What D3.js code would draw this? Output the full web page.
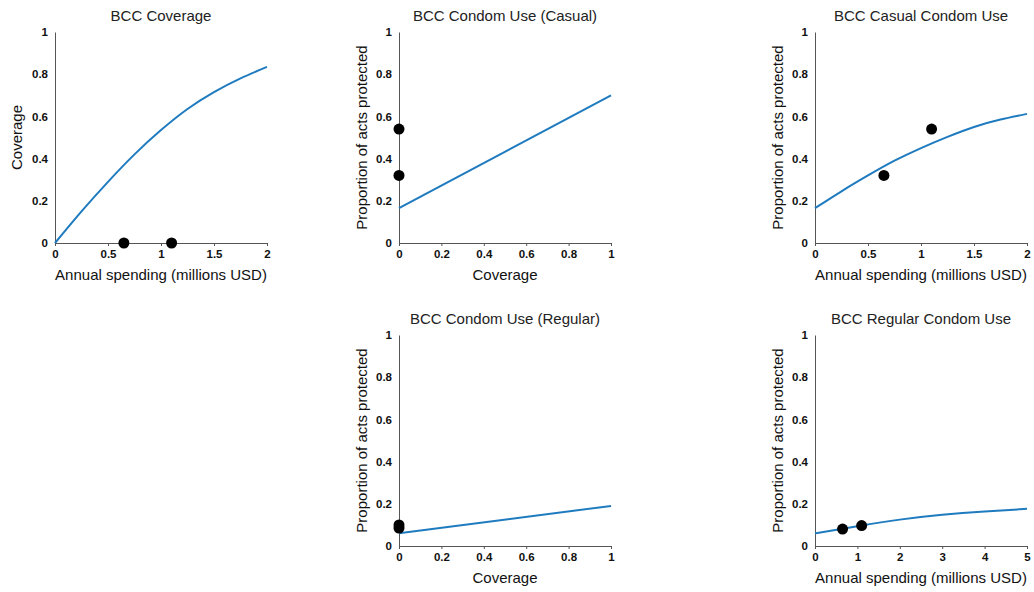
<!DOCTYPE html>
<html>
<head>
<meta charset="utf-8">
<script src="https://d3js.org/d3.v7.min.js"></script>
<style>
  body { margin: 0; background: #fff; }
  svg text { font-family: Arial, "Liberation Sans", sans-serif; }
  .tick text { font-weight: bold; font-size: 11.5px; fill: #111; }
  .domain, .tick line { stroke: #555; }
</style>
</head>
<body>
<div id="chart"></div>
<script>
// values
var spendA = [0, 0.25, 0.5, 0.75, 1, 1.25, 1.5, 1.75, 2];
var coverageCurve = [0, 0.15, 0.29, 0.42, 0.535, 0.635, 0.715, 0.78, 0.835];
var coverageDots = [[0.65, 0], [1.1, 0]];

var covX = [0, 1];
var casualLine = [0.165, 0.70];
var casualCovDots = [[0, 0.54], [0, 0.32]];

var casualCurve = [0.165, 0.245, 0.32, 0.39, 0.45, 0.503, 0.55, 0.585, 0.612];
var casualSpendDots = [[0.65, 0.32], [1.1, 0.54]];

var regularLine = [0.06, 0.19];
var regularCovDots = [[0, 0.085], [0, 0.10]];

var spendB = [0, 1, 2, 3, 4, 5];
var regularCurve = [0.06, 0.094, 0.125, 0.148, 0.164, 0.176];
var regularSpendDots = [[0.65, 0.08], [1.1, 0.097]];

var spendLabel = "Annual spending (millions USD)";
var propLabel = "Proportion of acts protected";

var panels = [
  {title: "BCC Coverage", x0: 55, y0: 32, xs: spendA, ys: coverageCurve, dots: coverageDots,
   xmax: 2, xticks: [0, 0.5, 1, 1.5, 2], xlab: spendLabel, ylab: "Coverage", ylabX: 17},
  {title: "BCC Condom Use (Casual)", x0: 399, y0: 32, xs: covX, ys: casualLine, dots: casualCovDots,
   xmax: 1, xticks: [0, 0.2, 0.4, 0.6, 0.8, 1], xlab: "Coverage", ylab: propLabel, ylabX: 362},
  {title: "BCC Casual Condom Use", x0: 815, y0: 32, xs: spendA, ys: casualCurve, dots: casualSpendDots,
   xmax: 2, xticks: [0, 0.5, 1, 1.5, 2], xlab: spendLabel, ylab: propLabel, ylabX: 778},
  {title: "BCC Condom Use (Regular)", x0: 399, y0: 335, xs: covX, ys: regularLine, dots: regularCovDots,
   xmax: 1, xticks: [0, 0.2, 0.4, 0.6, 0.8, 1], xlab: "Coverage", ylab: propLabel, ylabX: 362},
  {title: "BCC Regular Condom Use", x0: 815, y0: 335, xs: spendB, ys: regularCurve, dots: regularSpendDots,
   xmax: 5, xticks: [0, 1, 2, 3, 4, 5], xlab: spendLabel, ylab: propLabel, ylabX: 778}
];

var W = 212, H = 211;

var svg = d3.select("#chart").append("svg")
  .attr("width", 1034).attr("height", 592);

panels.forEach(function(p) {
  var x = d3.scaleLinear().domain([0, p.xmax]).range([0, W]);
  var y = d3.scaleLinear().domain([0, 1]).range([H, 0]);
  var g = svg.append("g").attr("transform", "translate(" + p.x0 + "," + p.y0 + ")");

  g.append("g").attr("transform", "translate(0," + H + ")")
    .call(d3.axisBottom(x).tickValues(p.xticks).tickSize(3).tickSizeOuter(0).tickPadding(4)
      .tickFormat(d3.format("")));
  g.append("g")
    .call(d3.axisLeft(y).tickValues([0, 0.2, 0.4, 0.6, 0.8, 1]).tickSize(0).tickSizeOuter(0).tickPadding(7)
      .tickFormat(d3.format("")));

  var pts = p.xs.map(function(v, i) { return [v, p.ys[i]]; });
  g.append("path").datum(pts)
    .attr("fill", "none").attr("stroke", "#1f7bbf").attr("stroke-width", 2)
    .attr("d", d3.line().x(function(d) { return x(d[0]); }).y(function(d) { return y(d[1]); })
      .curve(d3.curveNatural));

  g.selectAll("circle").data(p.dots).enter().append("circle")
    .attr("cx", function(d) { return x(d[0]); })
    .attr("cy", function(d) { return y(d[1]); })
    .attr("r", 5.5).attr("fill", "#000");

  g.append("text").attr("x", W / 2).attr("y", -11)
    .attr("text-anchor", "middle").attr("font-size", 15).attr("fill", "#222").text(p.title);
  g.append("text").attr("x", W / 2).attr("y", H + 37)
    .attr("text-anchor", "middle").attr("font-size", 15).attr("fill", "#111").text(p.xlab);
  svg.append("text")
    .attr("transform", "translate(" + p.ylabX + "," + (p.y0 + H / 2) + ") rotate(-90)")
    .attr("text-anchor", "middle").attr("dy", "0.35em").attr("font-size", 15).attr("fill", "#111")
    .text(p.ylab);
});
</script>
</body>
</html>
